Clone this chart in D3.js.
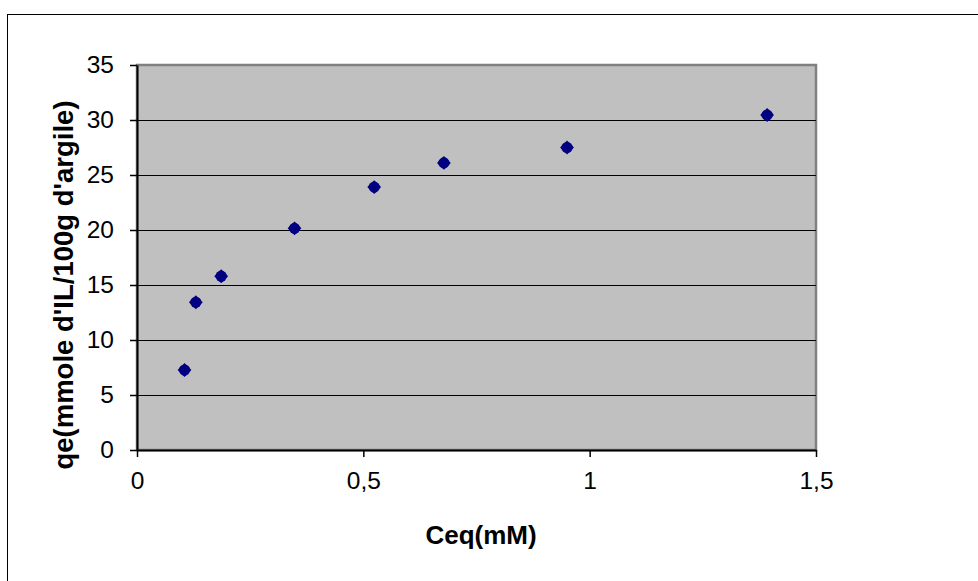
<!DOCTYPE html>
<html>
<head>
<meta charset="utf-8">
<script src="https://cdn.jsdelivr.net/npm/d3@7"></script>
<style>
  html, body { margin: 0; padding: 0; background: #fff; }
  svg { display: block; }
  text { font-family: "Liberation Sans", Arial, sans-serif; }
</style>
</head>
<body>
<svg id="chart" width="978" height="581"></svg>
<script>
// Adsorption isotherm: equilibrium concentration vs. amount adsorbed
const ceq = [0.105, 0.130, 0.186, 0.348, 0.524, 0.678, 0.950, 1.392];
const qe = [7.27, 13.43, 15.8, 20.15, 23.9, 26.1, 27.5, 30.45];
const xTicks = [0, 0.5, 1, 1.5];
const yTicks = [0, 5, 10, 15, 20, 25, 30, 35];
const xTitle = "Ceq(mM)";
const yTitle = "qe(mmole d'IL/100g d'argile)";

const svg = d3.select("#chart");
const W = 978, H = 581;
const plot = { left: 137, top: 65, right: 816, bottom: 450 };

const frLocale = d3.formatLocale({ decimal: ",", thousands: " ", grouping: [3], currency: ["", " €"] });
const fmt = frLocale.format("~g");

const x = d3.scaleLinear().domain([0, 1.5]).range([plot.left, plot.right]);
const y = d3.scaleLinear().domain([0, 35]).range([plot.bottom, plot.top]);

// Outer chart frame (continues past the right and bottom edges)
svg.append("rect")
  .attr("x", 7.5).attr("y", 14.5)
  .attr("width", W + 10).attr("height", H + 10)
  .attr("fill", "#fff").attr("stroke", "#000").attr("stroke-width", 1);

// Plot area background with grey border
svg.append("rect")
  .attr("x", plot.left).attr("y", plot.top)
  .attr("width", plot.right - plot.left).attr("height", plot.bottom - plot.top)
  .attr("fill", "#c0c0c0").attr("stroke", "#808080").attr("stroke-width", 2.5);

// Horizontal gridlines
svg.append("g")
  .selectAll("line")
  .data(yTicks.filter(d => d > 0 && d < 35))
  .join("line")
  .attr("x1", plot.left).attr("x2", plot.right)
  .attr("y1", d => Math.round(y(d)) + 0.5).attr("y2", d => Math.round(y(d)) + 0.5)
  .attr("stroke", "#000").attr("stroke-width", 1);

// Axes
const xAxis = d3.axisBottom(x).tickValues(xTicks).tickFormat(fmt).tickSizeInner(7).tickSizeOuter(0).tickPadding(15);
const yAxis = d3.axisLeft(y).tickValues(yTicks).tickFormat(fmt).tickSizeInner(7).tickSizeOuter(0).tickPadding(16);

const gx = svg.append("g").attr("transform", `translate(0,${plot.bottom})`).call(xAxis);
const gy = svg.append("g").attr("transform", `translate(${plot.left},0)`).call(yAxis);

[gx, gy].forEach(g => {
  g.select(".domain").attr("stroke", "#000").attr("stroke-width", 2);
  g.selectAll(".tick line").attr("stroke", "#000").attr("stroke-width", 1.5);
  g.selectAll(".tick text")
    .attr("fill", "#000")
    .style("font-family", '"Liberation Sans", Arial, sans-serif')
    .style("font-size", "24.5px");
});

// Axis titles
svg.append("text")
  .attr("x", 481).attr("y", 544)
  .attr("text-anchor", "middle")
  .style("font-size", "26px").style("font-weight", "bold")
  .text(xTitle);

svg.append("text")
  .attr("transform", "translate(73,285) rotate(-90)")
  .attr("text-anchor", "middle")
  .style("font-size", "27.5px").style("font-weight", "bold")
  .text(yTitle);

// Data markers: navy diamonds
const pts = ceq.map((c, i) => ({ c, q: qe[i] }));
const diamond = d3.symbol().type(d3.symbolSquare).size(96);
const g = svg.append("g");
g.selectAll("path.dia")
  .data(pts)
  .join("path")
  .attr("class", "dia")
  .attr("d", diamond)
  .attr("transform", d => `translate(${x(d.c)},${y(d.q)}) rotate(45)`)
  .attr("fill", "#000080");
g.selectAll("circle")
  .data(pts)
  .join("circle")
  .attr("cx", d => x(d.c)).attr("cy", d => y(d.q))
  .attr("r", 5.6)
  .attr("fill", "#000080");
</script>
</body>
</html>
